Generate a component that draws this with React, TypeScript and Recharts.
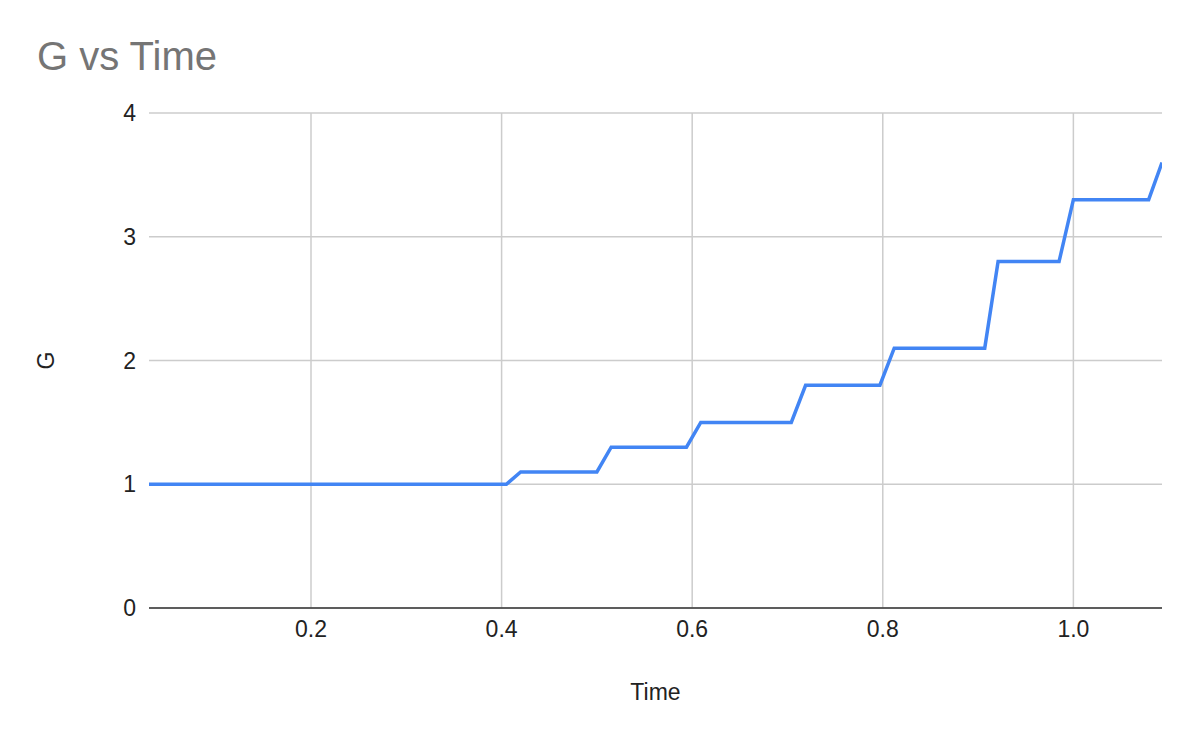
import React from 'react'
import { LineChart, Line, XAxis, YAxis, CartesianGrid, ReferenceLine } from 'recharts'

const timeValues = [0.03, 0.405, 0.42, 0.5, 0.515, 0.594, 0.609, 0.704, 0.719, 0.797, 0.812, 0.907, 0.921, 0.985, 1.0, 1.079, 1.093]
const gValues = [1, 1, 1.1, 1.1, 1.3, 1.3, 1.5, 1.5, 1.8, 1.8, 2.1, 2.1, 2.8, 2.8, 3.3, 3.3, 3.6]
const xTicks = [0.2, 0.4, 0.6, 0.8, 1.0]
const yTicks = [0, 1, 2, 3, 4]

const data = timeValues.map((t, i) => ({ time: t, g: gValues[i] }))

const font = '"Liberation Sans", Arial, sans-serif'

export default function App() {
  return (
    <div style={{ position: 'absolute', left: 0, top: 0, width: 1200, height: 741, background: '#fff', fontFamily: font }}>
      <div style={{ position: 'absolute', left: 37, top: 36, fontSize: 40, lineHeight: 1, color: '#757575' }}>G vs Time</div>
      <LineChart width={1200} height={741} data={data} margin={{ top: 113, right: 38, left: 0, bottom: 0 }}>
        <CartesianGrid stroke="#cccccc" strokeWidth={1.5} vertical={false} />
        {xTicks.map(t => (
          <ReferenceLine key={t} x={t} stroke="#cccccc" strokeWidth={1.5} />
        ))}
        <XAxis
          dataKey="time"
          type="number"
          domain={[0.03, 1.093]}
          ticks={xTicks}
          allowDataOverflow
          tickFormatter={v => v.toFixed(1)}
          tick={{ fontSize: 23, fill: '#222', fontFamily: font }}
          tickLine={false}
          tickSize={0}
          tickMargin={13}
          axisLine={{ stroke: '#333', strokeWidth: 1.5 }}
          height={133}
          label={{ value: 'Time', position: 'center', dy: 17, fontSize: 23, fill: '#222', fontFamily: font }}
        />
        <YAxis
          type="number"
          domain={[0, 4]}
          ticks={yTicks}
          tick={{ fontSize: 23, fill: '#222', fontFamily: font }}
          tickLine={false}
          tickSize={0}
          tickMargin={13}
          axisLine={false}
          width={149}
          label={{ value: 'G', angle: -90, position: 'center', dx: -29, fontSize: 23, fill: '#222', fontFamily: font }}
        />
        <Line type="linear" dataKey="g" stroke="#4285F4" strokeWidth={3.5} dot={false} isAnimationActive={false} />
      </LineChart>
    </div>
  )
}
